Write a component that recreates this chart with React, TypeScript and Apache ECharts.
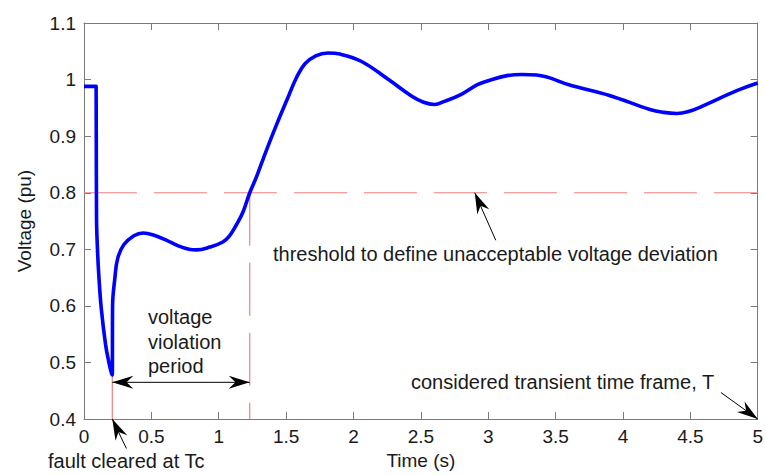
import React, { useEffect, useRef } from "react";
import * as echarts from "echarts";

const timeS = [0, 0.09, 0.093, 0.1, 0.11, 0.128, 0.16, 0.185, 0.205, 0.21, 0.212, 0.229, 0.25, 0.295, 0.37, 0.44, 0.52, 0.614, 0.7, 0.78, 0.836, 0.934, 1.03, 1.08, 1.13, 1.18, 1.23, 1.28, 1.33, 1.42, 1.52, 1.58, 1.64, 1.72, 1.81, 1.9, 2.06, 2.26, 2.43, 2.52, 2.6, 2.68, 2.8, 2.92, 3.0, 3.14, 3.25, 3.36, 3.61, 3.9, 4.2, 4.3, 4.4, 4.48, 4.59, 4.84, 5.0];
const voltagePu = [0.988, 0.988, 0.754, 0.7, 0.654, 0.596, 0.532, 0.5, 0.48, 0.478, 0.6, 0.649, 0.684, 0.708, 0.724, 0.729, 0.725, 0.716, 0.706, 0.7, 0.699, 0.704, 0.713, 0.724, 0.743, 0.766, 0.8, 0.828, 0.86, 0.915, 0.972, 1.005, 1.028, 1.042, 1.047, 1.045, 1.032, 1.0, 0.971, 0.96, 0.956, 0.962, 0.974, 0.991, 0.998, 1.007, 1.009, 1.008, 0.99, 0.972, 0.947, 0.942, 0.94, 0.943, 0.953, 0.98, 0.994];

const xTicks = { min: 0, max: 5, step: 0.5 };
const yTicks = { min: 0.4, max: 1.1, step: 0.1 };

const threshold = 0.8;
const faultClearedT = 0.21;
const faultMinV = 0.478;
const recoveryT = 1.23;
const violationArrowV = 0.465;

// annotation arrows: [tailT, tailV, tipT, tipV, doubleHeaded]
const annotationArrows = [
  [faultClearedT, violationArrowV, recoveryT, violationArrowV, 1],
  [3.056, 0.716, 2.9, 0.8, 0],
  [4.727, 0.447, 5.0, 0.4, 0],
  [0.315, 0.348, 0.21, 0.4, 0],
];

const annotationTexts = {
  violation: ["voltage", "violation", "period"],
  threshold: "threshold to define unacceptable voltage deviation",
  timeFrame: "considered transient time frame, T",
  fault: "fault cleared at Tc",
};

const FONT = '"Liberation Sans", Arial, Helvetica, sans-serif';
const RED = "#f08080";
const AXIS = "#7a7a7a";
const HEAD_LEN = 21;
const HEAD_W = 13;
const HEAD_NOTCH = 0.68;

function headPoints(tip: number[], from: number[]) {
  const dx = tip[0] - from[0];
  const dy = tip[1] - from[1];
  const len = Math.hypot(dx, dy) || 1;
  const ux = dx / len, uy = dy / len;
  const nx = -uy, ny = ux;
  const bx = tip[0] - ux * HEAD_LEN, by = tip[1] - uy * HEAD_LEN;
  return [
    [tip[0], tip[1]],
    [bx + nx * HEAD_W / 2, by + ny * HEAD_W / 2],
    [tip[0] - ux * HEAD_LEN * HEAD_NOTCH, tip[1] - uy * HEAD_LEN * HEAD_NOTCH],
    [bx - nx * HEAD_W / 2, by - ny * HEAD_W / 2],
  ];
}

export default function App() {
  const ref = useRef<HTMLDivElement>(null);
  useEffect(() => {
    if (!ref.current) return;
    const chart = echarts.init(ref.current, undefined, { renderer: "svg" });
    const curve = timeS.map((t, i) => [t, voltagePu[i]]);
    const axisCommon = {
      type: "value" as const,
      axisLine: { show: true, onZero: false, lineStyle: { color: AXIS, width: 1 } },
      axisTick: { show: true, inside: true, length: 7, lineStyle: { color: AXIS } },
      splitLine: { show: false },
    };
    const labelStyle = { color: "#1a1a1a", fontSize: 19, fontFamily: FONT };
    const dash = { color: RED, width: 1.2, type: [53, 17] };
    chart.setOption({
      animation: false,
      grid: { left: 84, right: 4, top: 23, bottom: 53, containLabel: false },
      xAxis: [
        {
          ...axisCommon,
          min: xTicks.min, max: xTicks.max, interval: xTicks.step,
          position: "bottom",
          name: "Time (s)", nameLocation: "middle", nameGap: 31,
          nameTextStyle: { color: "#1a1a1a", fontSize: 19, fontFamily: FONT },
          axisLabel: { ...labelStyle, margin: 8, showMaxLabel: true },
        },
        {
          ...axisCommon,
          min: xTicks.min, max: xTicks.max, interval: xTicks.step,
          position: "top",
          axisLabel: { show: false },
        },
      ],
      yAxis: [
        {
          ...axisCommon,
          min: yTicks.min, max: yTicks.max, interval: yTicks.step,
          position: "left",
          name: "Voltage (pu)", nameLocation: "middle", nameGap: 50,
          nameTextStyle: { color: "#1a1a1a", fontSize: 19, fontFamily: FONT },
          axisLabel: { ...labelStyle, margin: 8, formatter: (v: number) => String(Math.round(v * 10) / 10) },
        },
        {
          ...axisCommon,
          min: yTicks.min, max: yTicks.max, interval: yTicks.step,
          position: "right",
          axisLabel: { show: false },
        },
      ],
      series: [
        {
          type: "line",
          data: [[xTicks.min, threshold], [xTicks.max, threshold]],
          showSymbol: false, silent: true, lineStyle: dash,
        },
        {
          type: "line",
          data: [[recoveryT, threshold], [recoveryT, yTicks.min]],
          showSymbol: false, silent: true, lineStyle: dash,
        },
        {
          type: "line",
          data: [[faultClearedT, yTicks.min], [faultClearedT, faultMinV]],
          showSymbol: false, silent: true, lineStyle: dash,
        },
        {
          type: "line",
          data: curve,
          smooth: 0.4,
          showSymbol: false, silent: true,
          lineStyle: { color: "#0000ff", width: 3.6 },
          z: 5,
        },
        {
          type: "custom",
          data: annotationArrows,
          clip: false,
          silent: true,
          z: 6,
          renderItem: (params: any, api: any) => {
            const tail = api.coord([api.value(0), api.value(1)]);
            const tip = api.coord([api.value(2), api.value(3)]);
            const dbl = api.value(4) === 1;
            const children: any[] = [
              {
                type: "line",
                shape: { x1: tail[0], y1: tail[1], x2: tip[0], y2: tip[1] },
                style: { stroke: "#000", lineWidth: 1 },
              },
              {
                type: "polygon",
                shape: { points: headPoints(tip, tail) },
                style: { fill: "#000" },
              },
            ];
            if (dbl) {
              children.push({
                type: "polygon",
                shape: { points: headPoints(tail, tip) },
                style: { fill: "#000" },
              });
            }
            return { type: "group", children };
          },
        },
      ],
      graphic: [
        ...annotationTexts.violation.map((s, i) => ({
          type: "text", x: 148, y: 317 + i * 24.5,
          style: { text: s, fill: "#1a1a1a", font: `20px ${FONT}`, textVerticalAlign: "middle" },
          silent: true,
        })),
        {
          type: "text", x: 273, y: 254,
          style: { text: annotationTexts.threshold, fill: "#1a1a1a", font: `20px ${FONT}`, textVerticalAlign: "middle" },
          silent: true,
        },
        {
          type: "text", x: 411, y: 382,
          style: { text: annotationTexts.timeFrame, fill: "#1a1a1a", font: `20px ${FONT}`, textVerticalAlign: "middle" },
          silent: true,
        },
        {
          type: "text", x: 48, y: 461,
          style: { text: annotationTexts.fault, fill: "#1a1a1a", font: `20px ${FONT}`, textVerticalAlign: "middle" },
          silent: true,
        },
      ],
    });
    return () => chart.dispose();
  }, []);
  return (
    <div
      ref={ref}
      style={{ position: "fixed", left: 0, top: 0, width: 766, height: 475, background: "#fff" }}
    />
  );
}
